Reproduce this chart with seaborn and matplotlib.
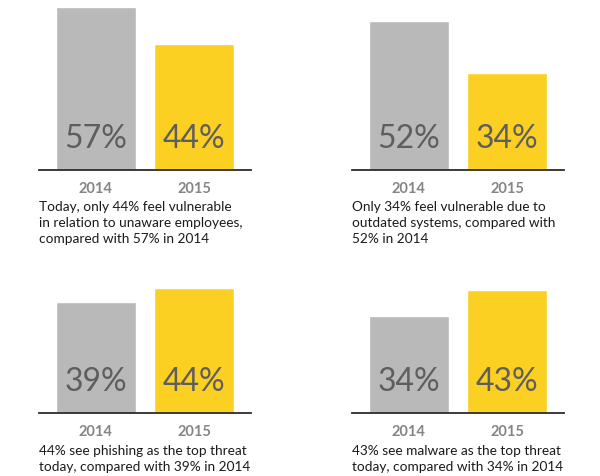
import matplotlib
matplotlib.use('Agg')
import matplotlib.pyplot as plt
import seaborn as sns
import pandas as pd

years = ['2014', '2015']
vals_unaware = [57, 44]
vals_outdated = [52, 34]
vals_phishing = [39, 44]
vals_malware = [34, 43]

captions = [
    'Today, only 44% feel vulnerable\nin relation to unaware employees,\ncompared with 57% in 2014',
    'Only 34% feel vulnerable due to\noutdated systems, compared with\n52% in 2014',
    '44% see phishing as the top threat\ntoday, compared with 39% in 2014',
    '43% see malware as the top threat\ntoday, compared with 34% in 2014',
]

gray = '#b9b9b9'
yellow = '#fcd022'
num_color = '#5e5e5e'
year_color = '#858585'

sns.set_style('white')
plt.rcParams['font.family'] = ['Lato', 'DejaVu Sans']

fig = plt.figure(figsize=(6, 4.77), dpi=100)

W, H = 600, 477
ppu = 2.85
# (values, left px, baseline px, top px)
panels = [
    (vals_unaware, 39, 170.5, 0),
    (vals_outdated, 352, 170.5, 0),
    (vals_phishing, 39, 414, 270),
    (vals_malware, 352, 414, 270),
]

for (vals, left, base, top), cap in zip(panels, captions):
    ax = fig.add_axes([left / W, (H - base) / H, 212 / W, (base - top) / H])
    df = pd.DataFrame({'year': years, 'pct': vals})
    sns.barplot(data=df, x='year', y='pct', hue='year', palette=[gray, yellow],
                width=0.816, saturation=1, legend=False, ax=ax)
    ax.set_xlim(-0.58, 1.58)
    ax.set_ylim(0, (base - top) / ppu)
    sns.despine(ax=ax, left=True)
    ax.spines['bottom'].set_color('#2b2b2b')
    ax.spines['bottom'].set_linewidth(1.3)
    ax.set_yticks([])
    ax.set_xlabel('')
    ax.set_ylabel('')
    ax.tick_params(axis='x', length=0, pad=8)
    for lbl in ax.get_xticklabels():
        lbl.set_fontsize(10.5)
        lbl.set_fontweight('bold')
        lbl.set_color(year_color)
    for i, v in enumerate(vals):
        ax.annotate(f'{v}%', xy=(i, 0), xytext=(0, 23), textcoords='offset points',
                    ha='center', va='center', fontsize=23, color=num_color)
    ax.annotate(cap, xy=(0, 0), xycoords='axes fraction', xytext=(0, -22),
                textcoords='offset points', ha='left', va='top', fontsize=9.8,
                color='#1a1a1a', linespacing=1.4)

fig.savefig('out.png', dpi=100)
